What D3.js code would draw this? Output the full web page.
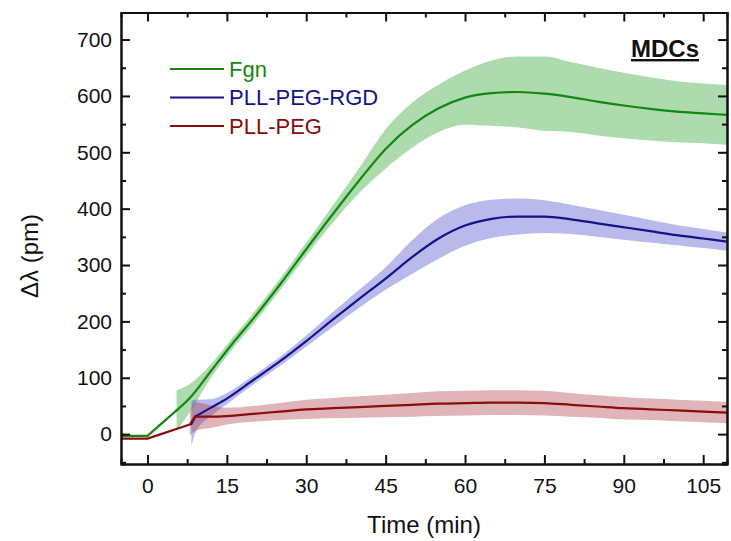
<!DOCTYPE html>
<html>
<head>
<meta charset="utf-8">
<script src="https://cdn.jsdelivr.net/npm/d3@7"></script>
<style>
  body { margin: 0; background: #fff; }
  text { font-family: "Liberation Sans", Arial, sans-serif; fill: #111; }
</style>
</head>
<body>
<div id="chart-area"></div>
<script>
// Fgn
const fgnTime = [-5, 0, 5.5, 8, 12, 16, 20, 25, 30, 35, 40, 45, 50, 55, 60, 65, 70, 75, 80, 85, 90, 95, 100, 105, 110];
const fgnMean = [-3, -3, 42, 64, 112, 160, 205, 265, 328, 390, 450, 506, 548, 578, 597, 605, 607, 604, 598, 590, 583, 577, 572, 569, 566];
const fgnErr  = [0, 0, 36, 25, 12, 10, 10, 10, 12, 15, 22, 35, 40, 42, 48, 58, 63, 66, 62, 60, 58, 56, 54, 53, 53];

// PLL-PEG-RGD
const rgdTime = [8.3, 9, 12, 15, 20, 25, 30, 35, 40, 45, 50, 55, 60, 65, 70, 75, 80, 85, 90, 95, 100, 105, 110];
const rgdMean = [18, 31, 47, 63, 96, 129, 165, 203, 240, 276, 314, 347, 370, 382, 386, 386, 381, 374, 367, 360, 353, 347, 341];
const rgdErr  = [40, 30, 15, 10, 8, 8, 10, 13, 16, 20, 30, 36, 36, 34, 32, 29, 26, 24, 22, 20, 18, 17, 16];

// PLL-PEG
const pegTime = [-5, 0, 8, 9, 12, 15, 20, 25, 30, 35, 40, 45, 50, 55, 60, 65, 70, 75, 80, 85, 90, 95, 100, 105, 110];
const pegMean = [-8, -8, 17, 31, 31, 32, 36, 40, 44, 46, 48, 50, 52, 54, 55, 56, 56, 55, 52, 49, 46, 44, 42, 40, 38];
const pegErr  = [0, 0, 20, 25, 20, 15, 14, 15, 17, 18, 19, 20, 21, 22, 22, 22, 22, 22, 21, 20, 20, 19, 19, 19, 19];

// last time of the straight (injection) part of each curve
const kinkTime = [5.5, 9, 9];

const xTicks = [0, 15, 30, 45, 60, 75, 90, 105];
const xMinor = [7.5, 22.5, 37.5, 52.5, 67.5, 82.5, 97.5];
const yTicks = [0, 100, 200, 300, 400, 500, 600, 700];
const yMinor = [-50, 50, 150, 250, 350, 450, 550, 650];

const seriesNames = ['Fgn', 'PLL-PEG-RGD', 'PLL-PEG'];

const zip = (t, m, e) => t.map((d, i) => ({ t: d, m: m[i], e: e[i] }));
const series = [
  { name: seriesNames[0], data: zip(fgnTime, fgnMean, fgnErr), line: '#128712', band: 'rgba(40,160,40,0.38)' },
  { name: seriesNames[1], data: zip(rgdTime, rgdMean, rgdErr), line: '#13138a', band: 'rgba(60,60,200,0.36)' },
  { name: seriesNames[2], data: zip(pegTime, pegMean, pegErr), line: '#8a0c0c', band: 'rgba(170,50,60,0.36)' }
];

const W = 731, H = 541;
const L = 121, R = 727, T = 12.5, B = 464;

const svg = d3.select('#chart-area').append('svg')
  .attr('width', W)
  .attr('height', H);

const x = d3.scaleLinear().domain([-5, 109.5]).range([L, R]);
const y = d3.scaleLinear().domain([-53, 748]).range([B, T]);

svg.append('clipPath').attr('id', 'clip')
  .append('rect').attr('x', L).attr('y', T).attr('width', R - L).attr('height', B - T);

const plot = svg.append('g').attr('clip-path', 'url(#clip)');

const area = d3.area()
  .defined(d => d.e > 0)
  .x(d => x(d.t))
  .y0(d => y(d.m - d.e))
  .y1(d => y(d.m + d.e))
  .curve(d3.curveMonotoneX);

const lineStraight = d3.line()
  .x(d => x(d.t))
  .y(d => y(d.m));

const lineSmooth = d3.line()
  .x(d => x(d.t))
  .y(d => y(d.m))
  .curve(d3.curveMonotoneX);

series.forEach(s => {
  plot.append('path')
    .attr('d', area(s.data))
    .attr('fill', s.band);
});
series.forEach((s, i) => {
  const k = kinkTime[i];
  const parts = [
    lineStraight(s.data.filter(d => d.t <= k)),
    lineSmooth(s.data.filter(d => d.t >= k))
  ];
  parts.forEach(p => {
    plot.append('path')
      .attr('d', p)
      .attr('fill', 'none')
      .attr('stroke', s.line)
      .attr('stroke-width', 2.2)
      .attr('stroke-linejoin', 'round')
      .attr('stroke-linecap', 'round');
  });
});

// axes, ticks pointing inward
const styleAxis = g => {
  g.select('.domain').attr('stroke', '#111').attr('stroke-width', 2);
  g.selectAll('.tick line').attr('stroke', '#111').attr('stroke-width', 2);
  g.selectAll('.tick text').attr('font-size', 21).attr('fill', '#111')
    .attr('font-family', '"Liberation Sans", Arial, sans-serif');
};

svg.append('g').attr('transform', `translate(0,${B})`)
  .call(d3.axisBottom(x).tickValues(xTicks).tickSizeInner(-9).tickSizeOuter(0).tickPadding(14))
  .call(styleAxis);
svg.append('g').attr('transform', `translate(0,${B})`)
  .call(d3.axisBottom(x).tickValues(xMinor).tickSize(-5).tickFormat(''))
  .call(styleAxis);
svg.append('g').attr('transform', `translate(0,${T})`)
  .call(d3.axisTop(x).tickValues(xTicks).tickSizeInner(-9).tickSizeOuter(0).tickFormat(''))
  .call(styleAxis);
svg.append('g').attr('transform', `translate(0,${T})`)
  .call(d3.axisTop(x).tickValues(xMinor).tickSize(-5).tickFormat(''))
  .call(styleAxis);

svg.append('g').attr('transform', `translate(${L},0)`)
  .call(d3.axisLeft(y).tickValues(yTicks).tickSizeInner(-9).tickSizeOuter(0).tickPadding(9))
  .call(styleAxis);
svg.append('g').attr('transform', `translate(${L},0)`)
  .call(d3.axisLeft(y).tickValues(yMinor).tickSize(-5).tickFormat(''))
  .call(styleAxis);
svg.append('g').attr('transform', `translate(${R},0)`)
  .call(d3.axisRight(y).tickValues(yTicks).tickSizeInner(-9).tickSizeOuter(0).tickFormat(''))
  .call(styleAxis);
svg.append('g').attr('transform', `translate(${R},0)`)
  .call(d3.axisRight(y).tickValues(yMinor).tickSize(-5).tickFormat(''))
  .call(styleAxis);

// axis titles
svg.append('text')
  .attr('x', (L + R) / 2)
  .attr('y', 533)
  .attr('text-anchor', 'middle')
  .attr('font-size', 24)
  .text('Time (min)');

svg.append('text')
  .attr('transform', 'translate(38,256) rotate(-90)')
  .attr('text-anchor', 'middle')
  .attr('font-size', 24)
  .text('Δλ (pm)');

// legend
const legend = svg.append('g');
series.forEach((s, i) => {
  const ly = 69 + i * 28.5;
  legend.append('line')
    .attr('x1', 170).attr('x2', 224)
    .attr('y1', ly).attr('y2', ly)
    .attr('stroke', s.line).attr('stroke-width', 2);
  legend.append('text')
    .attr('x', 229).attr('y', ly)
    .attr('dy', '0.36em')
    .attr('font-size', 22)
    .style('fill', s.line)
    .text(s.name);
});

svg.append('text')
  .attr('x', 699).attr('y', 57)
  .attr('text-anchor', 'end')
  .attr('font-size', 24)
  .attr('font-weight', 'bold')
  .style('text-decoration', 'underline')
  .text('MDCs');
</script>
</body>
</html>
